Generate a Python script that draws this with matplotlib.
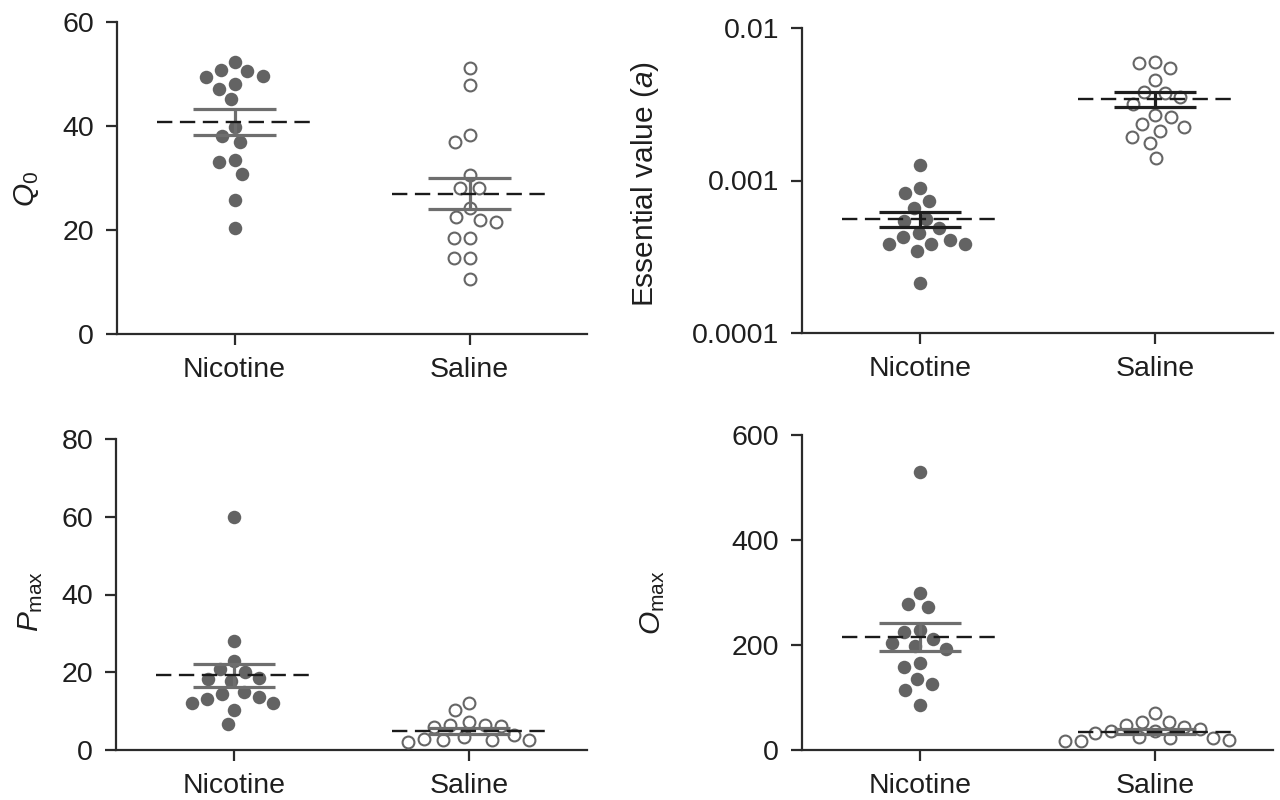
import numpy as np
import matplotlib
matplotlib.use("Agg")
import matplotlib.pyplot as plt

plt.rcParams['font.family'] = ['Liberation Sans', 'DejaVu Sans']
plt.rcParams['mathtext.fontset'] = 'custom'
plt.rcParams['mathtext.rm'] = 'Liberation Sans'
plt.rcParams['mathtext.it'] = 'Liberation Sans:italic'

# ---------------- data ----------------
groups = ["Nicotine", "Saline"]

q0_nicotine = [50.7, 49.7, 49.5, 50.6, 52.4, 48.1, 47.2, 45.1, 39.8, 38.0,
               36.9, 33.5, 33.0, 30.8, 25.7, 20.3]
q0_saline = [51.2, 47.9, 38.2, 36.9, 30.6, 28.1, 28.1, 24.2, 21.5, 22.5,
             21.9, 18.5, 18.5, 14.6, 14.6, 10.6]
q0_mean = [40.8, 27.0]
q0_sem = [2.55, 3.0]

ev_nicotine = [0.00126, 0.000893, 0.000828, 0.000730, 0.000656, 0.000561,
               0.000542, 0.000488, 0.000426, 0.000453, 0.000384, 0.000382,
               0.000386, 0.000407, 0.000345, 0.000214]
ev_saline = [0.00598, 0.00589, 0.00546, 0.00453, 0.00382, 0.00372, 0.00351,
             0.00319, 0.00267, 0.00262, 0.00225, 0.00233, 0.00212, 0.00194,
             0.00175, 0.00140]
ev_mean = [0.000561, 0.00343]
ev_sem = [0.000062, 0.00040]

pmax_nicotine = [60.0, 28.0, 23.0, 20.8, 20.0, 18.4, 17.7, 18.3, 15.0, 13.6,
                 14.3, 13.1, 12.0, 12.1, 10.4, 6.6]
pmax_saline = [12.0, 10.3, 7.3, 6.4, 6.0, 6.3, 6.4, 3.4, 2.7, 2.5, 2.0, 2.6,
               2.8, 3.9]
pmax_mean = [19.2, 4.9]
pmax_sem = [3.0, 0.8]

omax_nicotine = [530, 299, 273, 279, 225, 228, 211, 204, 199, 192, 165, 158,
                 135, 126, 115, 85]
omax_saline = [47.6, 36.8, 36.2, 23.5, 23.5, 54, 54, 70, 17.8, 17.8, 19, 24,
               33, 39.4, 43]
omax_mean = [215, 35]
omax_sem = [27, 5]

# ---------------- style ----------------
FILL = "#636363"
EDGE = "#666666"
AXC = "#2b2b2b"
FS = 20.5
MS = 13.5  # marker diameter in px
SPACING = 16.0

fig = plt.figure(figsize=(12.8, 8.0), dpi=100)

panels = [
    dict(rect=[117/1280, 1-334/800, 470/1280, 312/800], nic=q0_nicotine, sal=q0_saline,
         mean=q0_mean, sem=q0_sem, ylim=(0, 60), yticks=[0, 20, 40, 60],
         yticklabels=["0", "20", "40", "60"], log=False,
         ylabel=r"$\mathit{Q}_{0}$", lab=(-0.162, 0.465), semc="#6e6e6e"),
    dict(rect=[802/1280, 1-333/800, 471/1280, 305/800], nic=ev_nicotine, sal=ev_saline,
         mean=ev_mean, sem=ev_sem, ylim=(1e-4, 1e-2), yticks=[1e-4, 1e-3, 1e-2],
         yticklabels=["0.0001", "0.001", "0.01"], log=True,
         ylabel=r"Essential value ($\mathit{a}$)", lab=(-0.30, 0.487), semc="#1e1e1e"),
    dict(rect=[116/1280, 1-750/800, 471/1280, 311/800], nic=pmax_nicotine, sal=pmax_saline,
         mean=pmax_mean, sem=pmax_sem, ylim=(0, 80), yticks=[0, 20, 40, 60, 80],
         yticklabels=["0", "20", "40", "60", "80"], log=False,
         ylabel=r"$\mathit{P}_{\mathrm{max}}$", lab=(-0.15, 0.479), semc="#6e6e6e"),
    dict(rect=[802/1280, 1-750/800, 471/1280, 315/800], nic=omax_nicotine, sal=omax_saline,
         mean=omax_mean, sem=omax_sem, ylim=(0, 600), yticks=[0, 200, 400, 600],
         yticklabels=["0", "200", "400", "600"], log=False,
         ylabel=r"$\mathit{O}_{\mathrm{max}}$", lab=(-0.287, 0.467), semc="#6e6e6e"),
]


def swarm_x(ax, xc, values, d):
    vals = np.asarray(values, dtype=float)
    pts = ax.transData.transform(np.column_stack([np.full(len(vals), xc), vals]))
    ys = pts[:, 1]
    x0 = pts[0, 0]
    order = np.argsort(-ys)
    placed = []
    dxs = np.zeros(len(vals))
    for i in order:
        y = ys[i]
        cands = [0.0]
        for (px, py) in placed:
            dy = y - py
            if abs(dy) < d:
                h = np.sqrt(d * d - dy * dy)
                cands += [px + h, px - h]
        cands = sorted(cands, key=lambda c: (abs(c), c))
        chosen = cands[-1]
        for c in cands:
            if all((c - px) ** 2 + (y - py) ** 2 >= d * d - 1e-6 for px, py in placed):
                chosen = c
                break
        dxs[i] = chosen
        placed.append((chosen, y))
    inv = ax.transData.inverted()
    xy = inv.transform(np.column_stack([x0 + dxs, ys]))
    return xy[:, 0]


ms_pt = MS * 72 / 100.0

for p in panels:
    ax = fig.add_axes(p["rect"])
    if p["log"]:
        ax.set_yscale("log")
    ax.set_xlim(-0.5, 1.5)
    ax.set_ylim(*p["ylim"])
    ax.set_yticks(p["yticks"])
    ax.set_yticklabels(p["yticklabels"])
    ax.minorticks_off()
    ax.set_xticks([0, 1])
    ax.set_xticklabels(groups)
    for s in ["top", "right"]:
        ax.spines[s].set_visible(False)
    for s in ["left", "bottom"]:
        ax.spines[s].set_linewidth(1.6)
        ax.spines[s].set_color(AXC)
    ax.tick_params(axis="both", length=8, width=1.6, color=AXC, labelsize=FS,
                   labelcolor="#1e1e1e", pad=8.5)
    ax.set_ylabel(p["ylabel"], fontsize=FS + 1, color="#1e1e1e")
    ax.yaxis.set_label_coords(*p["lab"])

    # points
    xn = swarm_x(ax, 0, p["nic"], SPACING)
    xs = swarm_x(ax, 1, p["sal"], SPACING)
    ax.plot(xn, p["nic"], "o", ms=ms_pt, mfc=FILL, mec=FILL, mew=0, ls="none",
            zorder=3, clip_on=False)
    ax.plot(xs, p["sal"], "o", ms=ms_pt - 1.2, mfc="white", mec=EDGE, mew=1.5,
            ls="none", zorder=3, clip_on=False)

    # SEM bars and mean lines
    for gi in range(2):
        m = p["mean"][gi]
        s = p["sem"][gi]
        ax.hlines([m - s, m + s], gi - 0.175, gi + 0.175, colors=p["semc"],
                  lw=2.3, zorder=4)
        ax.vlines(gi, m - s, m + s, colors=p["semc"], lw=2.3, zorder=4)
        ax.hlines(m, gi - 0.33, gi + 0.33, colors="#1a1a1a", lw=1.7,
                  linestyles=(0, (6.5, 3.2)), zorder=5)

fig.savefig("out.png", dpi=100)
